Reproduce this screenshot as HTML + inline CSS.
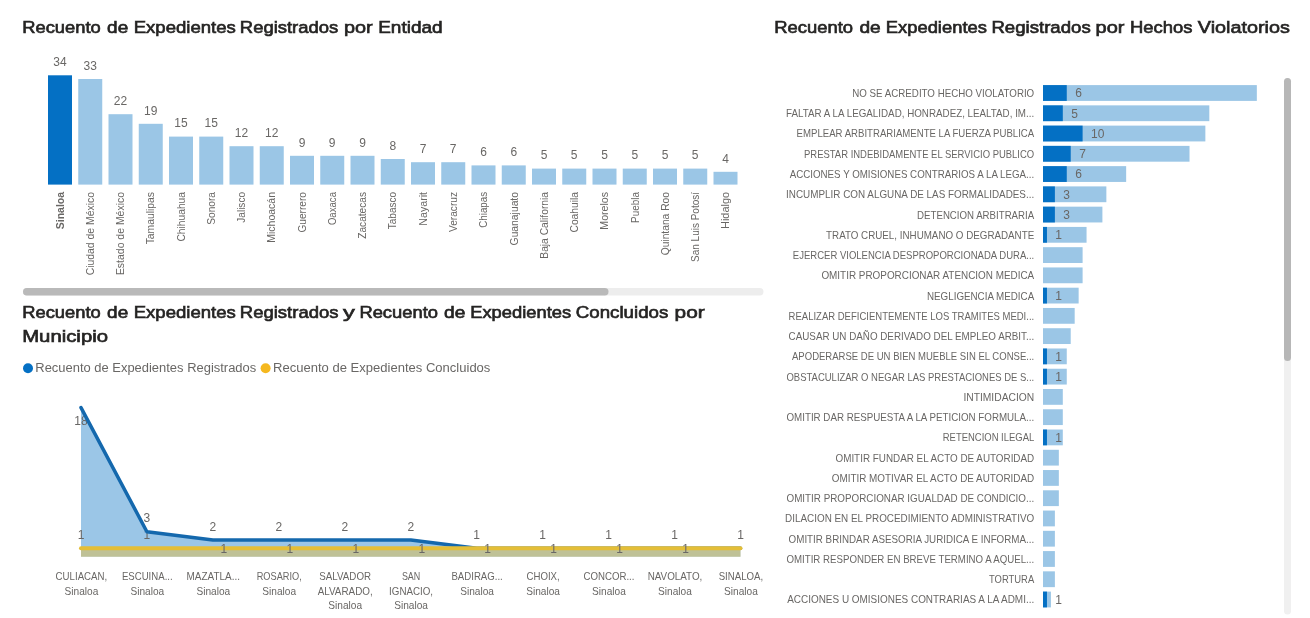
<!DOCTYPE html>
<html lang="es"><head><meta charset="utf-8"><title>Recuento de Expedientes</title>
<style>html,body{margin:0;padding:0;background:#fff;}body{width:1310px;height:618px;overflow:hidden;}svg{display:block;}text{font-family:"Liberation Sans",sans-serif;}.t{font-size:17px;fill:#252423;stroke:#252423;stroke-width:0.65px;}.l{font-size:11px;fill:#696765;}.d{font-size:12px;fill:#696765;}</style></head><body>
<svg width="1310" height="618" viewBox="0 0 1310 618">
<rect width="1310" height="618" fill="#fff"/>
<g id="chart-entidad">
<text class="t" y="33.0"><tspan x="22.2" textLength="78.5" lengthAdjust="spacingAndGlyphs">Recuento</tspan> <tspan x="107.1" textLength="21.1" lengthAdjust="spacingAndGlyphs">de</tspan> <tspan x="133.7" textLength="102.2" lengthAdjust="spacingAndGlyphs">Expedientes</tspan> <tspan x="239.8" textLength="98.5" lengthAdjust="spacingAndGlyphs">Registrados</tspan> <tspan x="344.0" textLength="28.7" lengthAdjust="spacingAndGlyphs">por</tspan> <tspan x="378.2" textLength="64.5" lengthAdjust="spacingAndGlyphs">Entidad</tspan></text>
<rect x="48.00" y="75.30" width="24" height="109.30" fill="#0470C4"/>
<text class="d" x="60.0" y="66.0" text-anchor="middle">34</text>
<text class="l" x="63.7" y="192.0" textLength="37.2" lengthAdjust="spacingAndGlyphs" text-anchor="end" transform="rotate(-90 63.7 192)" font-weight="bold">Sinaloa</text>
<rect x="78.25" y="79.00" width="24" height="105.60" fill="#9BC6E6"/>
<text class="d" x="90.2" y="69.7" text-anchor="middle">33</text>
<text class="l" x="94.0" y="192.0" textLength="83.3" lengthAdjust="spacingAndGlyphs" text-anchor="end" transform="rotate(-90 94.0 192)">Ciudad de México</text>
<rect x="108.50" y="114.20" width="24" height="70.40" fill="#9BC6E6"/>
<text class="d" x="120.5" y="104.9" text-anchor="middle">22</text>
<text class="l" x="124.2" y="192.0" textLength="83.1" lengthAdjust="spacingAndGlyphs" text-anchor="end" transform="rotate(-90 124.2 192)">Estado de México</text>
<rect x="138.75" y="123.80" width="24" height="60.80" fill="#9BC6E6"/>
<text class="d" x="150.8" y="114.5" text-anchor="middle">19</text>
<text class="l" x="154.4" y="192.0" textLength="52.3" lengthAdjust="spacingAndGlyphs" text-anchor="end" transform="rotate(-90 154.4 192)">Tamaulipas</text>
<rect x="169.00" y="136.60" width="24" height="48.00" fill="#9BC6E6"/>
<text class="d" x="181.0" y="127.3" text-anchor="middle">15</text>
<text class="l" x="184.7" y="192.0" textLength="49.6" lengthAdjust="spacingAndGlyphs" text-anchor="end" transform="rotate(-90 184.7 192)">Chihuahua</text>
<rect x="199.25" y="136.60" width="24" height="48.00" fill="#9BC6E6"/>
<text class="d" x="211.2" y="127.3" text-anchor="middle">15</text>
<text class="l" x="214.9" y="192.0" textLength="32.7" lengthAdjust="spacingAndGlyphs" text-anchor="end" transform="rotate(-90 214.9 192)">Sonora</text>
<rect x="229.50" y="146.20" width="24" height="38.40" fill="#9BC6E6"/>
<text class="d" x="241.5" y="136.9" text-anchor="middle">12</text>
<text class="l" x="245.2" y="192.0" textLength="30.7" lengthAdjust="spacingAndGlyphs" text-anchor="end" transform="rotate(-90 245.2 192)">Jalisco</text>
<rect x="259.75" y="146.20" width="24" height="38.40" fill="#9BC6E6"/>
<text class="d" x="271.8" y="136.9" text-anchor="middle">12</text>
<text class="l" x="275.4" y="192.0" textLength="50.7" lengthAdjust="spacingAndGlyphs" text-anchor="end" transform="rotate(-90 275.4 192)">Michoacán</text>
<rect x="290.00" y="155.80" width="24" height="28.80" fill="#9BC6E6"/>
<text class="d" x="302.0" y="146.5" text-anchor="middle">9</text>
<text class="l" x="305.7" y="192.0" textLength="40.5" lengthAdjust="spacingAndGlyphs" text-anchor="end" transform="rotate(-90 305.7 192)">Guerrero</text>
<rect x="320.25" y="155.80" width="24" height="28.80" fill="#9BC6E6"/>
<text class="d" x="332.2" y="146.5" text-anchor="middle">9</text>
<text class="l" x="335.9" y="192.0" textLength="33.1" lengthAdjust="spacingAndGlyphs" text-anchor="end" transform="rotate(-90 335.9 192)">Oaxaca</text>
<rect x="350.50" y="155.80" width="24" height="28.80" fill="#9BC6E6"/>
<text class="d" x="362.5" y="146.5" text-anchor="middle">9</text>
<text class="l" x="366.2" y="192.0" textLength="46.7" lengthAdjust="spacingAndGlyphs" text-anchor="end" transform="rotate(-90 366.2 192)">Zacatecas</text>
<rect x="380.75" y="159.00" width="24" height="25.60" fill="#9BC6E6"/>
<text class="d" x="392.8" y="149.7" text-anchor="middle">8</text>
<text class="l" x="396.4" y="192.0" textLength="37.2" lengthAdjust="spacingAndGlyphs" text-anchor="end" transform="rotate(-90 396.4 192)">Tabasco</text>
<rect x="411.00" y="162.20" width="24" height="22.40" fill="#9BC6E6"/>
<text class="d" x="423.0" y="152.9" text-anchor="middle">7</text>
<text class="l" x="426.7" y="192.0" textLength="33.7" lengthAdjust="spacingAndGlyphs" text-anchor="end" transform="rotate(-90 426.7 192)">Nayarit</text>
<rect x="441.25" y="162.20" width="24" height="22.40" fill="#9BC6E6"/>
<text class="d" x="453.2" y="152.9" text-anchor="middle">7</text>
<text class="l" x="456.9" y="192.0" textLength="40.0" lengthAdjust="spacingAndGlyphs" text-anchor="end" transform="rotate(-90 456.9 192)">Veracruz</text>
<rect x="471.50" y="165.40" width="24" height="19.20" fill="#9BC6E6"/>
<text class="d" x="483.5" y="156.1" text-anchor="middle">6</text>
<text class="l" x="487.2" y="192.0" textLength="35.7" lengthAdjust="spacingAndGlyphs" text-anchor="end" transform="rotate(-90 487.2 192)">Chiapas</text>
<rect x="501.75" y="165.40" width="24" height="19.20" fill="#9BC6E6"/>
<text class="d" x="513.8" y="156.1" text-anchor="middle">6</text>
<text class="l" x="517.5" y="192.0" textLength="53.4" lengthAdjust="spacingAndGlyphs" text-anchor="end" transform="rotate(-90 517.5 192)">Guanajuato</text>
<rect x="532.00" y="168.60" width="24" height="16.00" fill="#9BC6E6"/>
<text class="d" x="544.0" y="159.3" text-anchor="middle">5</text>
<text class="l" x="547.7" y="192.0" textLength="66.7" lengthAdjust="spacingAndGlyphs" text-anchor="end" transform="rotate(-90 547.7 192)">Baja California</text>
<rect x="562.25" y="168.60" width="24" height="16.00" fill="#9BC6E6"/>
<text class="d" x="574.2" y="159.3" text-anchor="middle">5</text>
<text class="l" x="578.0" y="192.0" textLength="40.5" lengthAdjust="spacingAndGlyphs" text-anchor="end" transform="rotate(-90 578.0 192)">Coahuila</text>
<rect x="592.50" y="168.60" width="24" height="16.00" fill="#9BC6E6"/>
<text class="d" x="604.5" y="159.3" text-anchor="middle">5</text>
<text class="l" x="608.2" y="192.0" textLength="37.7" lengthAdjust="spacingAndGlyphs" text-anchor="end" transform="rotate(-90 608.2 192)">Morelos</text>
<rect x="622.75" y="168.60" width="24" height="16.00" fill="#9BC6E6"/>
<text class="d" x="634.8" y="159.3" text-anchor="middle">5</text>
<text class="l" x="638.5" y="192.0" textLength="30.9" lengthAdjust="spacingAndGlyphs" text-anchor="end" transform="rotate(-90 638.5 192)">Puebla</text>
<rect x="653.00" y="168.60" width="24" height="16.00" fill="#9BC6E6"/>
<text class="d" x="665.0" y="159.3" text-anchor="middle">5</text>
<text class="l" x="668.7" y="192.0" textLength="63.3" lengthAdjust="spacingAndGlyphs" text-anchor="end" transform="rotate(-90 668.7 192)">Quintana Roo</text>
<rect x="683.25" y="168.60" width="24" height="16.00" fill="#9BC6E6"/>
<text class="d" x="695.2" y="159.3" text-anchor="middle">5</text>
<text class="l" x="699.0" y="192.0" textLength="69.9" lengthAdjust="spacingAndGlyphs" text-anchor="end" transform="rotate(-90 699.0 192)">San Luis Potosí</text>
<rect x="713.50" y="171.80" width="24" height="12.80" fill="#9BC6E6"/>
<text class="d" x="725.5" y="162.5" text-anchor="middle">4</text>
<text class="l" x="729.2" y="192.0" textLength="36.9" lengthAdjust="spacingAndGlyphs" text-anchor="end" transform="rotate(-90 729.2 192)">Hidalgo</text>
<rect x="23" y="288" width="740.5" height="7.5" rx="3.75" fill="#ededed"/>
<rect x="23" y="288" width="585.5" height="7.5" rx="3.75" fill="#b9b9b9"/>
</g>
<g id="chart-municipio">
<text class="t" y="318.0"><tspan x="22.2" textLength="78.5" lengthAdjust="spacingAndGlyphs">Recuento</tspan> <tspan x="107.1" textLength="21.1" lengthAdjust="spacingAndGlyphs">de</tspan> <tspan x="133.7" textLength="102.2" lengthAdjust="spacingAndGlyphs">Expedientes</tspan> <tspan x="239.8" textLength="98.7" lengthAdjust="spacingAndGlyphs">Registrados</tspan> <tspan x="342.9" textLength="11.8" lengthAdjust="spacingAndGlyphs">y</tspan> <tspan x="359.4" textLength="78.6" lengthAdjust="spacingAndGlyphs">Recuento</tspan> <tspan x="444.0" textLength="21.3" lengthAdjust="spacingAndGlyphs">de</tspan> <tspan x="470.2" textLength="101.0" lengthAdjust="spacingAndGlyphs">Expedientes</tspan> <tspan x="575.8" textLength="92.5" lengthAdjust="spacingAndGlyphs">Concluidos</tspan> <tspan x="674.6" textLength="30.1" lengthAdjust="spacingAndGlyphs">por</tspan></text>
<text class="t" x="22.2" y="342.2" textLength="85.8" lengthAdjust="spacingAndGlyphs">Municipio</text>
<circle cx="28" cy="368.3" r="5" fill="#0470C4"/>
<text class="d" x="35.3" y="372.3" textLength="220.9" lengthAdjust="spacingAndGlyphs">Recuento de Expedientes Registrados</text>
<circle cx="265.6" cy="368.3" r="5" fill="#F5B81F"/>
<text class="d" x="273.0" y="372.3" textLength="217.4" lengthAdjust="spacingAndGlyphs">Recuento de Expedientes Concluidos</text>
<polygon points="81.0,556.7 81.0,407.6 146.9,531.7 212.9,540.0 278.9,540.0 344.8,540.0 410.8,540.0 476.7,548.2 542.7,548.2 608.6,548.2 674.6,548.2 740.5,548.2 740.5,556.7" fill="#0470C4" fill-opacity="0.4"/>
<polygon points="81.0,556.7 81.0,548.2 146.9,548.2 212.9,548.2 278.9,548.2 344.8,548.2 410.8,548.2 476.7,548.2 542.7,548.2 608.6,548.2 674.6,548.2 740.5,548.2 740.5,556.7" fill="#F5B81F" fill-opacity="0.4"/>
<text class="d" x="81.0" y="425.0" text-anchor="middle">18</text>
<text class="d" x="146.9" y="539.0" text-anchor="middle">1</text>
<polyline points="81.0,407.6 146.9,531.7 212.9,540.0 278.9,540.0 344.8,540.0 410.8,540.0 476.7,548.2 542.7,548.2 608.6,548.2 674.6,548.2 740.5,548.2" fill="none" stroke="#1468AD" stroke-width="3.5" stroke-linejoin="round" stroke-linecap="round"/>
<polyline points="81.0,548.2 146.9,548.2 212.9,548.2 278.9,548.2 344.8,548.2 410.8,548.2 476.7,548.2 542.7,548.2 608.6,548.2 674.6,548.2 740.5,548.2" fill="none" stroke="#E4BE37" stroke-width="4" stroke-linejoin="round" stroke-linecap="round"/>
<text class="d" x="146.9" y="522.2" text-anchor="middle">3</text>
<text class="d" x="212.9" y="530.5" text-anchor="middle">2</text>
<text class="d" x="278.9" y="530.5" text-anchor="middle">2</text>
<text class="d" x="344.8" y="530.5" text-anchor="middle">2</text>
<text class="d" x="410.8" y="530.5" text-anchor="middle">2</text>
<text class="d" x="476.7" y="538.7" text-anchor="middle">1</text>
<text class="d" x="542.7" y="538.7" text-anchor="middle">1</text>
<text class="d" x="608.6" y="538.7" text-anchor="middle">1</text>
<text class="d" x="674.6" y="538.7" text-anchor="middle">1</text>
<text class="d" x="740.5" y="538.7" text-anchor="middle">1</text>
<text class="d" x="81.0" y="538.5" text-anchor="middle">1</text>
<text class="d" x="223.9" y="552.5" text-anchor="middle">1</text>
<text class="d" x="289.9" y="552.5" text-anchor="middle">1</text>
<text class="d" x="355.8" y="552.5" text-anchor="middle">1</text>
<text class="d" x="421.8" y="552.5" text-anchor="middle">1</text>
<text class="d" x="487.7" y="552.5" text-anchor="middle">1</text>
<text class="d" x="553.7" y="552.5" text-anchor="middle">1</text>
<text class="d" x="619.6" y="552.5" text-anchor="middle">1</text>
<text class="d" x="685.6" y="552.5" text-anchor="middle">1</text>
<text class="l" x="81.4" y="580.2" textLength="51.6" lengthAdjust="spacingAndGlyphs" text-anchor="middle">CULIACAN,</text>
<text class="l" x="81.4" y="594.7" textLength="33.8" lengthAdjust="spacingAndGlyphs" text-anchor="middle">Sinaloa</text>
<text class="l" x="147.3" y="580.2" textLength="50.8" lengthAdjust="spacingAndGlyphs" text-anchor="middle">ESCUINA...</text>
<text class="l" x="147.3" y="594.7" textLength="33.8" lengthAdjust="spacingAndGlyphs" text-anchor="middle">Sinaloa</text>
<text class="l" x="213.3" y="580.2" textLength="53.5" lengthAdjust="spacingAndGlyphs" text-anchor="middle">MAZATLA...</text>
<text class="l" x="213.3" y="594.7" textLength="33.8" lengthAdjust="spacingAndGlyphs" text-anchor="middle">Sinaloa</text>
<text class="l" x="279.2" y="580.2" textLength="45.1" lengthAdjust="spacingAndGlyphs" text-anchor="middle">ROSARIO,</text>
<text class="l" x="279.2" y="594.7" textLength="33.8" lengthAdjust="spacingAndGlyphs" text-anchor="middle">Sinaloa</text>
<text class="l" x="345.2" y="580.2" textLength="51.7" lengthAdjust="spacingAndGlyphs" text-anchor="middle">SALVADOR</text>
<text class="l" x="345.2" y="594.7" textLength="55.0" lengthAdjust="spacingAndGlyphs" text-anchor="middle">ALVARADO,</text>
<text class="l" x="345.2" y="609.2" textLength="33.8" lengthAdjust="spacingAndGlyphs" text-anchor="middle">Sinaloa</text>
<text class="l" x="411.1" y="580.2" textLength="18.4" lengthAdjust="spacingAndGlyphs" text-anchor="middle">SAN</text>
<text class="l" x="411.1" y="594.7" textLength="44.0" lengthAdjust="spacingAndGlyphs" text-anchor="middle">IGNACIO,</text>
<text class="l" x="411.1" y="609.2" textLength="33.8" lengthAdjust="spacingAndGlyphs" text-anchor="middle">Sinaloa</text>
<text class="l" x="477.1" y="580.2" textLength="51.4" lengthAdjust="spacingAndGlyphs" text-anchor="middle">BADIRAG...</text>
<text class="l" x="477.1" y="594.7" textLength="33.8" lengthAdjust="spacingAndGlyphs" text-anchor="middle">Sinaloa</text>
<text class="l" x="543.1" y="580.2" textLength="33.2" lengthAdjust="spacingAndGlyphs" text-anchor="middle">CHOIX,</text>
<text class="l" x="543.1" y="594.7" textLength="33.8" lengthAdjust="spacingAndGlyphs" text-anchor="middle">Sinaloa</text>
<text class="l" x="609.0" y="580.2" textLength="50.9" lengthAdjust="spacingAndGlyphs" text-anchor="middle">CONCOR...</text>
<text class="l" x="609.0" y="594.7" textLength="33.8" lengthAdjust="spacingAndGlyphs" text-anchor="middle">Sinaloa</text>
<text class="l" x="675.0" y="580.2" textLength="54.7" lengthAdjust="spacingAndGlyphs" text-anchor="middle">NAVOLATO,</text>
<text class="l" x="675.0" y="594.7" textLength="33.8" lengthAdjust="spacingAndGlyphs" text-anchor="middle">Sinaloa</text>
<text class="l" x="740.9" y="580.2" textLength="44.5" lengthAdjust="spacingAndGlyphs" text-anchor="middle">SINALOA,</text>
<text class="l" x="740.9" y="594.7" textLength="33.8" lengthAdjust="spacingAndGlyphs" text-anchor="middle">Sinaloa</text>
</g>
<g id="chart-hechos">
<text class="t" y="33.0"><tspan x="774.3" textLength="78.8" lengthAdjust="spacingAndGlyphs">Recuento</tspan> <tspan x="859.4" textLength="21.3" lengthAdjust="spacingAndGlyphs">de</tspan> <tspan x="885.8" textLength="101.1" lengthAdjust="spacingAndGlyphs">Expedientes</tspan> <tspan x="991.4" textLength="99.3" lengthAdjust="spacingAndGlyphs">Registrados</tspan> <tspan x="1095.6" textLength="28.9" lengthAdjust="spacingAndGlyphs">por</tspan> <tspan x="1130.0" textLength="62.5" lengthAdjust="spacingAndGlyphs">Hechos</tspan> <tspan x="1197.8" textLength="92.1" lengthAdjust="spacingAndGlyphs">Violatorios</tspan></text>
<rect x="1043" y="85.10" width="213.84" height="15.8" fill="#9BC6E6"/>
<rect x="1043" y="85.10" width="23.76" height="15.8" fill="#0470C4"/>
<text class="d" x="1078.6" y="97.2" text-anchor="middle">6</text>
<text class="l" x="852.3" y="96.9" textLength="181.9" lengthAdjust="spacingAndGlyphs">NO SE ACREDITO HECHO VIOLATORIO</text>
<rect x="1043" y="105.36" width="166.32" height="15.8" fill="#9BC6E6"/>
<rect x="1043" y="105.36" width="19.80" height="15.8" fill="#0470C4"/>
<text class="d" x="1074.6" y="117.5" text-anchor="middle">5</text>
<text class="l" x="786.1" y="117.2" textLength="248.1" lengthAdjust="spacingAndGlyphs">FALTAR A LA LEGALIDAD, HONRADEZ, LEALTAD, IM...</text>
<rect x="1043" y="125.62" width="162.36" height="15.8" fill="#9BC6E6"/>
<rect x="1043" y="125.62" width="39.60" height="15.8" fill="#0470C4"/>
<text class="d" x="1097.7" y="137.7" text-anchor="middle">10</text>
<text class="l" x="796.6" y="137.4" textLength="237.6" lengthAdjust="spacingAndGlyphs">EMPLEAR ARBITRARIAMENTE LA FUERZA PUBLICA</text>
<rect x="1043" y="145.88" width="146.52" height="15.8" fill="#9BC6E6"/>
<rect x="1043" y="145.88" width="27.72" height="15.8" fill="#0470C4"/>
<text class="d" x="1082.5" y="158.0" text-anchor="middle">7</text>
<text class="l" x="804.0" y="157.7" textLength="230.2" lengthAdjust="spacingAndGlyphs">PRESTAR INDEBIDAMENTE EL SERVICIO PUBLICO</text>
<rect x="1043" y="166.14" width="83.16" height="15.8" fill="#9BC6E6"/>
<rect x="1043" y="166.14" width="23.76" height="15.8" fill="#0470C4"/>
<text class="d" x="1078.6" y="178.2" text-anchor="middle">6</text>
<text class="l" x="789.7" y="177.9" textLength="244.5" lengthAdjust="spacingAndGlyphs">ACCIONES Y OMISIONES CONTRARIOS A LA LEGA...</text>
<rect x="1043" y="186.40" width="63.36" height="15.8" fill="#9BC6E6"/>
<rect x="1043" y="186.40" width="11.88" height="15.8" fill="#0470C4"/>
<text class="d" x="1066.7" y="198.5" text-anchor="middle">3</text>
<text class="l" x="786.1" y="198.2" textLength="248.1" lengthAdjust="spacingAndGlyphs">INCUMPLIR CON ALGUNA DE LAS FORMALIDADES...</text>
<rect x="1043" y="206.66" width="59.40" height="15.8" fill="#9BC6E6"/>
<rect x="1043" y="206.66" width="11.88" height="15.8" fill="#0470C4"/>
<text class="d" x="1066.7" y="218.8" text-anchor="middle">3</text>
<text class="l" x="917.1" y="218.5" textLength="117.1" lengthAdjust="spacingAndGlyphs">DETENCION ARBITRARIA</text>
<rect x="1043" y="226.92" width="43.56" height="15.8" fill="#9BC6E6"/>
<rect x="1043" y="226.92" width="3.96" height="15.8" fill="#0470C4"/>
<text class="d" x="1058.5" y="239.0" text-anchor="middle">1</text>
<text class="l" x="826.1" y="238.7" textLength="208.1" lengthAdjust="spacingAndGlyphs">TRATO CRUEL, INHUMANO O DEGRADANTE</text>
<rect x="1043" y="247.18" width="39.60" height="15.8" fill="#9BC6E6"/>
<text class="l" x="792.8" y="259.0" textLength="241.4" lengthAdjust="spacingAndGlyphs">EJERCER VIOLENCIA DESPROPORCIONADA DURA...</text>
<rect x="1043" y="267.44" width="39.60" height="15.8" fill="#9BC6E6"/>
<text class="l" x="821.4" y="279.2" textLength="212.8" lengthAdjust="spacingAndGlyphs">OMITIR PROPORCIONAR ATENCION MEDICA</text>
<rect x="1043" y="287.70" width="35.64" height="15.8" fill="#9BC6E6"/>
<rect x="1043" y="287.70" width="3.96" height="15.8" fill="#0470C4"/>
<text class="d" x="1058.5" y="299.8" text-anchor="middle">1</text>
<text class="l" x="927.0" y="299.5" textLength="107.2" lengthAdjust="spacingAndGlyphs">NEGLIGENCIA MEDICA</text>
<rect x="1043" y="307.96" width="31.68" height="15.8" fill="#9BC6E6"/>
<text class="l" x="788.6" y="319.8" textLength="245.6" lengthAdjust="spacingAndGlyphs">REALIZAR DEFICIENTEMENTE LOS TRAMITES MEDI...</text>
<rect x="1043" y="328.22" width="27.72" height="15.8" fill="#9BC6E6"/>
<text class="l" x="788.6" y="340.0" textLength="245.6" lengthAdjust="spacingAndGlyphs">CAUSAR UN DAÑO DERIVADO DEL EMPLEO ARBIT...</text>
<rect x="1043" y="348.48" width="23.76" height="15.8" fill="#9BC6E6"/>
<rect x="1043" y="348.48" width="3.96" height="15.8" fill="#0470C4"/>
<text class="d" x="1058.5" y="360.6" text-anchor="middle">1</text>
<text class="l" x="792.0" y="360.3" textLength="242.2" lengthAdjust="spacingAndGlyphs">APODERARSE DE UN BIEN MUEBLE SIN EL CONSE...</text>
<rect x="1043" y="368.74" width="23.76" height="15.8" fill="#9BC6E6"/>
<rect x="1043" y="368.74" width="3.96" height="15.8" fill="#0470C4"/>
<text class="d" x="1058.5" y="380.8" text-anchor="middle">1</text>
<text class="l" x="786.5" y="380.5" textLength="247.7" lengthAdjust="spacingAndGlyphs">OBSTACULIZAR O NEGAR LAS PRESTACIONES DE S...</text>
<rect x="1043" y="389.00" width="19.80" height="15.8" fill="#9BC6E6"/>
<text class="l" x="963.4" y="400.8" textLength="70.8" lengthAdjust="spacingAndGlyphs">INTIMIDACION</text>
<rect x="1043" y="409.26" width="19.80" height="15.8" fill="#9BC6E6"/>
<text class="l" x="786.5" y="421.1" textLength="247.7" lengthAdjust="spacingAndGlyphs">OMITIR DAR RESPUESTA A LA PETICION FORMULA...</text>
<rect x="1043" y="429.52" width="19.80" height="15.8" fill="#9BC6E6"/>
<rect x="1043" y="429.52" width="3.96" height="15.8" fill="#0470C4"/>
<text class="d" x="1058.5" y="441.6" text-anchor="middle">1</text>
<text class="l" x="942.8" y="441.3" textLength="91.4" lengthAdjust="spacingAndGlyphs">RETENCION ILEGAL</text>
<rect x="1043" y="449.78" width="15.84" height="15.8" fill="#9BC6E6"/>
<text class="l" x="835.5" y="461.6" textLength="198.7" lengthAdjust="spacingAndGlyphs">OMITIR FUNDAR EL ACTO DE AUTORIDAD</text>
<rect x="1043" y="470.04" width="15.84" height="15.8" fill="#9BC6E6"/>
<text class="l" x="831.7" y="481.8" textLength="202.5" lengthAdjust="spacingAndGlyphs">OMITIR MOTIVAR EL ACTO DE AUTORIDAD</text>
<rect x="1043" y="490.30" width="15.84" height="15.8" fill="#9BC6E6"/>
<text class="l" x="786.5" y="502.1" textLength="247.7" lengthAdjust="spacingAndGlyphs">OMITIR PROPORCIONAR IGUALDAD DE CONDICIO...</text>
<rect x="1043" y="510.56" width="11.88" height="15.8" fill="#9BC6E6"/>
<text class="l" x="785.1" y="522.4" textLength="249.1" lengthAdjust="spacingAndGlyphs">DILACION EN EL PROCEDIMIENTO ADMINISTRATIVO</text>
<rect x="1043" y="530.82" width="11.88" height="15.8" fill="#9BC6E6"/>
<text class="l" x="788.6" y="542.6" textLength="245.6" lengthAdjust="spacingAndGlyphs">OMITIR BRINDAR ASESORIA JURIDICA E INFORMA...</text>
<rect x="1043" y="551.08" width="11.88" height="15.8" fill="#9BC6E6"/>
<text class="l" x="786.5" y="562.9" textLength="247.7" lengthAdjust="spacingAndGlyphs">OMITIR RESPONDER EN BREVE TERMINO A AQUEL...</text>
<rect x="1043" y="571.34" width="11.88" height="15.8" fill="#9BC6E6"/>
<text class="l" x="989.0" y="583.1" textLength="45.2" lengthAdjust="spacingAndGlyphs">TORTURA</text>
<rect x="1043" y="591.60" width="7.92" height="15.8" fill="#9BC6E6"/>
<rect x="1043" y="591.60" width="3.96" height="15.8" fill="#0470C4"/>
<text class="d" x="1058.5" y="603.7" text-anchor="middle">1</text>
<text class="l" x="787.2" y="603.4" textLength="247.0" lengthAdjust="spacingAndGlyphs">ACCIONES U OMISIONES CONTRARIAS A LA ADMI...</text>
<rect x="1284" y="78" width="7" height="536.5" rx="3.5" fill="#f0f0f0"/>
<rect x="1284" y="78" width="7" height="283" rx="3.5" fill="#b7b7b7"/>
</g>
</svg></body></html>
